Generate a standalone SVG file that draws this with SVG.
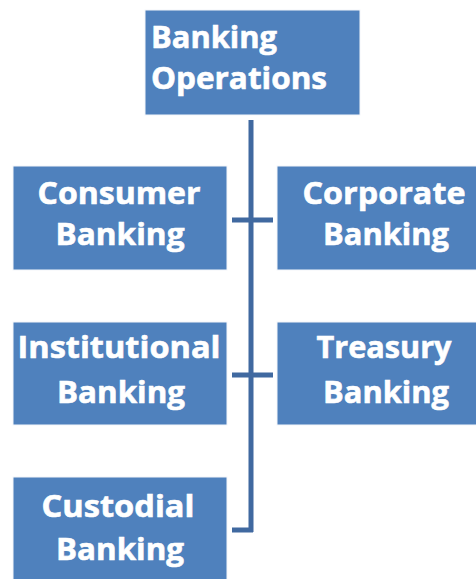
<svg xmlns="http://www.w3.org/2000/svg" width="476" height="579" viewBox="0 0 476 579">
<style>
.box{fill:#4f81bd;stroke:#f4f6fa;stroke-width:1}
.t{font-family:"Open Sans","Noto Sans",sans-serif;font-weight:bold;font-size:31px;fill:#ffffff;stroke:#ffffff;stroke-width:0.6;text-anchor:middle}
.tl{font-family:"Open Sans","Noto Sans",sans-serif;font-weight:bold;font-size:31px;fill:#ffffff;stroke:#ffffff;stroke-width:0.6}
.c{stroke:#4069a0;stroke-width:5;fill:none}
</style>
<rect width="476" height="579" fill="#ffffff"/>
<g id="connectors">
<path class="c" d="M251 120 V532"/>
<path class="c" d="M232 220 H273"/>
<path class="c" d="M232 375 H273"/>
<path class="c" d="M232 530 H253"/>
</g>
<g id="banking-operations">
<rect class="box" x="145" y="10" width="215" height="105"/>
<text class="tl" x="151" y="48" textLength="126" lengthAdjust="spacingAndGlyphs">Banking</text>
<text class="tl" x="151" y="89" textLength="176" lengthAdjust="spacingAndGlyphs">Operations</text>
</g>
<g id="consumer-banking">
<rect class="box" x="13" y="166" width="214" height="104"/>
<text class="t" x="119" y="204" textLength="163" lengthAdjust="spacingAndGlyphs">Consumer</text>
<text class="t" x="120" y="245" textLength="129" lengthAdjust="spacingAndGlyphs">Banking</text>
</g>
<g id="corporate-banking">
<rect class="box" x="277" y="166" width="205" height="104"/>
<text class="t" x="384" y="204" textLength="163" lengthAdjust="spacingAndGlyphs">Corporate</text>
<text class="t" x="386" y="245" textLength="126" lengthAdjust="spacingAndGlyphs">Banking</text>
</g>
<g id="institutional-banking">
<rect class="box" x="13" y="322" width="214" height="103"/>
<text class="t" x="119" y="358" textLength="203" lengthAdjust="spacingAndGlyphs">Institutional</text>
<text class="t" x="121" y="403" textLength="128" lengthAdjust="spacingAndGlyphs">Banking</text>
</g>
<g id="treasury-banking">
<rect class="box" x="277" y="322" width="205" height="103"/>
<text class="t" x="384" y="358" textLength="135" lengthAdjust="spacingAndGlyphs">Treasury</text>
<text class="t" x="386" y="403" textLength="126" lengthAdjust="spacingAndGlyphs">Banking</text>
</g>
<g id="custodial-banking">
<rect class="box" x="13" y="477" width="214" height="110"/>
<text class="t" x="118" y="517" textLength="153" lengthAdjust="spacingAndGlyphs">Custodial</text>
<text class="t" x="120" y="560" textLength="128" lengthAdjust="spacingAndGlyphs">Banking</text>
</g>
</svg>
